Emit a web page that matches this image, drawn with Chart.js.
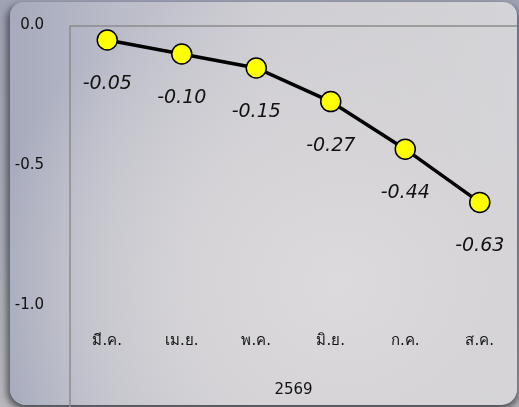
<!DOCTYPE html>
<html>
<head>
<meta charset="utf-8">
<script src="https://cdn.jsdelivr.net/npm/chart.js@4"></script>
<style>
  html, body { margin: 0; padding: 0; }
  body {
    width: 519px; height: 407px; overflow: hidden; position: relative;
    background: linear-gradient(180deg, #9ea2b3 0%, #a9abb6 60%, #b9b9bd 100%);
  }
  #panel {
    position: absolute; left: 10px; top: 2px; width: 507px; height: 403px;
    border-radius: 14px 14px 16px 16px;
    background:
      radial-gradient(ellipse 70% 80% at 65% 70%, rgba(220,218,220,1) 0%, rgba(214,212,215,0.9) 45%, rgba(200,200,206,0) 100%),
      linear-gradient(90deg, #a6aabc 0%, #b9bbc8 20%, #cdccd3 50%, #d1d0d4 80%, #d4d4d8 100%);
    box-shadow: -4px 3px 6px rgba(40,40,50,0.55), 3px 4px 6px rgba(40,40,50,0.5);
  }
  #chart { position: absolute; left: 0; top: 0; }
</style>
</head>
<body>
<div id="panel"></div>
<canvas id="chart" width="519" height="407"></canvas>
<script>
const months = ["มี.ค.", "เม.ย.", "พ.ค.", "มิ.ย.", "ก.ค.", "ส.ค."];
const values = [-0.05, -0.10, -0.15, -0.27, -0.44, -0.63];
const yearLabel = "2569";
const yTicks = [0, -0.5, -1.0];

const FONT = "'DejaVu Sans', Tahoma, Verdana, sans-serif";

// axis lines + value labels
const decorPlugin = {
    id: "decor",
    beforeDatasetsDraw(chart) {
        const { ctx, chartArea } = chart;
        ctx.save();
        ctx.strokeStyle = "#8c8c8c";
        ctx.lineWidth = 1.5;
        ctx.beginPath();
        ctx.moveTo(chartArea.left, chart.height);
        ctx.lineTo(chartArea.left, chartArea.top);
        ctx.lineTo(chartArea.right, chartArea.top);
        ctx.stroke();
        ctx.restore();
    },
    afterDatasetsDraw(chart) {
        const { ctx } = chart;
        const meta = chart.getDatasetMeta(0);
        ctx.save();
        ctx.font = "italic 19px " + FONT;
        ctx.fillStyle = "#111111";
        ctx.textAlign = "center";
        ctx.textBaseline = "middle";
        meta.data.forEach((pt, i) => {
            ctx.fillText(values[i].toFixed(2), pt.x, pt.y + 44);
        });
        ctx.restore();
    },
};

new Chart(document.getElementById("chart"), {
    type: "line",
    data: {
        labels: months,
        datasets: [
            {
                data: values,
                borderColor: "#000000",
                borderWidth: 3.5,
                pointRadius: 10,
                pointHoverRadius: 10,
                pointBackgroundColor: "#ffff00",
                pointBorderColor: "#000000",
                pointBorderWidth: 1.5,
                tension: 0,
                clip: false,
            },
        ],
    },
    options: {
        responsive: false,
        animation: false,
        devicePixelRatio: 1,
        layout: { autoPadding: false, padding: { top: 26, right: 2, left: 0, bottom: 8 } },
        plugins: {
            legend: { display: false },
            tooltip: { enabled: false },
        },
        scales: {
            x: {
                offset: true,
                grid: {
                    drawOnChartArea: false,
                    drawTicks: true,
                    tickLength: 26,
                    color: "rgba(0,0,0,0)",
                },
                border: { display: false },
                ticks: { padding: 0, color: "#111", font: { family: FONT, size: 15 } },
                title: {
                    display: true,
                    text: yearLabel,
                    color: "#111",
                    font: { family: FONT, size: 15 },
                    padding: { top: 31, bottom: 0 },
                },
            },
            y: {
                min: -1.0,
                max: 0,
                grid: {
                    drawOnChartArea: false,
                    drawTicks: true,
                    tickLength: 26,
                    color: "rgba(0,0,0,0)",
                },
                border: { display: false },
                afterFit(scale) { scale.width = 70; },
                afterBuildTicks(scale) { scale.ticks = yTicks.map((v) => ({ value: v })); },
                ticks: {
                    padding: 0,
                    labelOffset: -1,
                    color: "#111",
                    font: { family: FONT, size: 15 },
                    callback: (v) => Number(v).toFixed(1),
                },
            },
        },
    },
    plugins: [decorPlugin],
});
</script>
</body>
</html>
